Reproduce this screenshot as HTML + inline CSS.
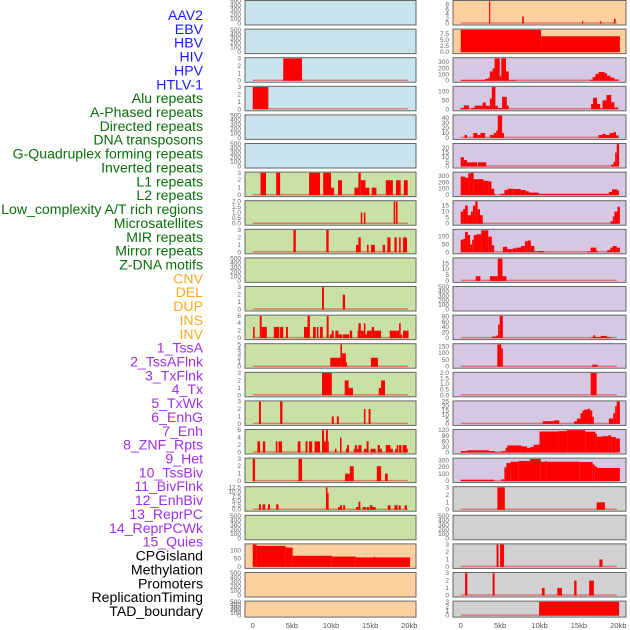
<!DOCTYPE html>
<html><head><meta charset="utf-8"><style>
html,body{margin:0;padding:0;background:#fff;}
svg{display:block;font-family:"Liberation Sans",sans-serif;}
</style></head><body>
<svg id="chart" width="630" height="630" viewBox="0 0 630 630" xmlns="http://www.w3.org/2000/svg"></svg>
<script>
const trackNames = ["AAV2","EBV","HBV","HIV","HPV","HTLV-1","Alu repeats","A-Phased repeats","Directed repeats","DNA transposons","G-Quadruplex forming repeats","Inverted repeats","L1 repeats","L2 repeats","Low_complexity A/T rich regions","Microsatellites","MIR repeats","Mirror repeats","Z-DNA motifs","CNV","DEL","DUP","INS","INV","1_TssA","2_TssAFlnk","3_TxFlnk","4_Tx","5_TxWk","6_EnhG","7_Enh","8_ZNF_Rpts","9_Het","10_TssBiv","11_BivFlnk","12_EnhBiv","13_ReprPC","14_ReprPCWk","15_Quies","CPGisland","Methylation","Promoters","ReplicationTiming","TAD_boundary"];
const groupOf = ["v","v","v","v","v","v","r","r","r","r","r","r","r","r","r","r","r","r","r","s","s","s","s","s","c","c","c","c","c","c","c","c","c","c","c","c","c","c","c","o","o","o","o","o"];
const E500 = [0,100,200,300,400,500];
const T3 = [0,1,2,3];
const yMaxes = [500,500,3,3,500,500,3,2,3,500,3,6,5,3,3,6,3,12.5,500,136,500,500,
  9.5,9.3,360,125,45,24,350,18.4,142,19,500,82,164,2,25,120,322,3,500,3,3,3];
const yTicks = [E500,E500,T3,T3,E500,E500,T3,[0,0.5,1,1.5,2],T3,E500,T3,[0,2,4,6],[0,1,2,3,4,5],T3,T3,[0,2,4,6],T3,[0,2.5,5,7.5,10,12.5],E500,[0,50,100],E500,E500,
  [0,2,4,6,8],[0,2.5,5,7.5],[0,100,200,300],[0,50,100],[0,10,20,30,40],[0,5,10,15,20],[0,100,200,300],[0,5,10,15],[0,50,100],[0,5,10,15],E500,[0,20,40,60,80],[0,50,100,150],[0,0.5,1,1.5,2],[0,5,10,15,20,25],[0,30,60,90,120],[0,100,200,300],T3,E500,T3,T3,T3];
const tickDecimals = [0,0,0,0,0,0,0,1,0,0,0,0,0,0,0,0,0,1,0,0,0,0, 0,1,0,0,0,0,0,0,0,0,0,0,0,1,0,0,0,0,0,0,0,0];
// segments: [startKb, endKb, value]
const segments = [
 [],[],
 [[3.9,6.3,3]],
 [[0,2.0,3]],
 [],[],
 [[1.0,1.7,3],[3.0,3.5,3],[7.2,8.6,3],[9.0,10.0,3],[10.0,10.4,1],[10.9,11.4,2],[13.0,13.5,1],[13.5,13.8,3],[13.8,14.4,2],[14.4,14.9,1],[15.2,15.8,1],[17.0,17.9,2],[18.3,18.9,2],[19.3,19.8,2]],
 [[13.8,14.0,1],[14.2,14.4,1],[18.0,18.2,2],[18.3,18.5,2]],
 [[5.2,5.5,3],[9.4,9.7,3],[13.2,13.5,1],[13.5,13.8,2],[14.6,14.8,1],[15.1,15.6,1],[16.6,16.9,1],[17.2,17.6,2],[18.1,18.4,2],[18.7,18.9,2],[19.2,19.7,2]],
 [],
 [[8.85,9.1,3],[11.5,11.8,2]],
 [[0.05,0.25,3],[0.9,1.15,6],[1.15,1.8,3],[2.7,3.4,3],[3.5,3.9,3],[4.25,4.5,3],[6.55,7.0,3],[7.0,7.3,6],[7.7,8.05,3],[8.2,8.4,3],[8.6,8.95,3],[9.45,9.7,6],[9.85,10.1,1],[10.1,10.35,2],[10.55,10.95,2],[10.95,11.4,1],[11.5,12.3,1],[12.4,12.7,2],[13.4,13.5,2],[13.5,13.8,4],[13.8,14.2,2],[14.2,14.4,4],[14.4,14.6,1],[14.6,15.2,2],[15.2,15.5,3],[15.5,16.4,2],[17.5,18.4,2],[18.4,18.7,2],[18.7,18.9,4],[18.9,19.1,1],[19.2,19.9,2]],
 [[9.9,11.2,2],[11.2,11.4,5],[11.4,11.9,3],[11.9,12.05,1],[15.1,16.0,2]],
 [[8.85,10.1,3],[11.75,12.25,2],[12.25,12.8,1],[16.1,16.4,1],[16.4,16.9,2]],
 [[0.8,1.05,3],[3.5,3.8,3],[10.1,10.35,1],[10.75,11.0,1],[14.2,14.4,2],[14.8,15.05,2]],
 [[0.6,0.95,3],[1.3,1.6,3],[2.95,3.15,3],[3.3,3.75,3],[5.75,6.1,3],[6.75,7.0,3],[7.2,7.6,3],[7.9,8.6,3],[8.85,9.1,6],[9.1,9.35,3],[9.35,9.6,6],[9.6,9.7,3],[10.5,10.7,1],[11.15,11.35,4],[11.9,12.05,1],[12.05,12.3,2],[12.9,13.05,1],[13.05,13.3,2],[13.3,13.5,1],[13.5,13.9,2],[14.2,14.55,1],[14.55,14.8,3],[15.05,15.7,1],[15.95,16.25,2],[16.25,16.5,1],[17.0,17.6,2],[17.6,17.9,1],[18.2,18.4,1],[18.4,18.6,2],[18.7,19.0,2],[19.15,19.65,2],[19.65,19.8,1]],
 [[0,0.3,3],[5.85,6.3,3],[11.8,12.05,1],[12.05,12.4,1],[12.4,12.9,2],[15.85,16.4,2],[16.9,17.25,1]],
 [[0.8,1.05,3],[1.25,1.6,3],[1.95,2.2,3],[3.0,3.3,3],[9.35,9.55,12.5],[9.55,9.7,9.5],[10.9,11.15,1.5],[11.15,11.4,2.5],[11.55,11.8,2.5],[13.2,13.5,1.5],[13.5,13.75,4.5],[14.05,14.45,1.5],[14.55,14.85,1.5],[14.95,15.3,2.5],[15.3,15.7,1.5],[17.25,17.6,2.5],[18.1,18.5,2.5],[18.65,18.9,2.5],[19.4,19.7,2.5]],
 [],
 [[0,0.5,136],[0.5,4.2,128],[4.2,5.1,118],[5.1,10.1,68],[10.1,13.15,63],[13.15,20.1,58],[15.5,15.6,64]],
 [],[],
 [[3.6,3.75,9.5],[7.8,8.0,3],[15.4,15.55,1],[17.7,17.85,1],[19.45,19.65,2]],
 [[0,10.2,9.3],[10.2,20.2,6.6]],
 [[0,3.1,10],[3.1,3.5,30],[3.5,3.7,50],[3.7,4.05,150],[4.05,4.3,200],[4.3,4.95,360],[4.95,5.15,80],[5.15,5.75,360],[5.75,6.1,150],[6.1,6.25,10],[6.35,7.0,10],[16.4,16.75,15],[16.75,17.1,60],[17.1,17.5,110],[17.5,18.25,140],[18.25,18.55,120],[18.55,19.0,80],[19.0,19.5,50],[19.5,20.1,20]],
 [[0,0.4,8],[0.4,1.05,22],[1.35,1.75,8],[1.75,2.65,20],[2.65,2.8,22],[2.8,3.2,38],[3.2,3.7,20],[3.7,3.95,60],[3.95,4.4,125],[4.4,4.7,20],[4.7,5.25,8],[5.25,5.85,70],[5.85,6.1,20],[16.55,16.8,30],[16.8,17.3,65],[17.3,17.7,30],[17.7,18.0,5],[18.0,18.5,50],[18.5,19.1,80],[19.1,19.5,40],[19.5,20.0,10]],
 [[0.5,0.8,6],[1.6,2.1,10],[2.1,2.5,6],[2.5,3.1,10],[3.7,4.2,6],[4.2,4.5,10],[4.5,4.7,15],[4.7,5.25,45],[5.25,5.5,10],[17.5,18.0,6],[18.0,18.4,8],[18.4,18.9,6],[18.9,19.4,10],[19.4,19.7,12],[19.7,20.05,5]],
 [[0,0.4,10],[0.4,0.8,7],[0.8,2.1,4.5],[2.2,3.25,4.5],[19.1,19.4,2],[19.4,19.6,5],[19.6,19.8,15],[19.8,20.1,24]],
 [[0,0.6,290],[0.6,0.95,270],[0.95,1.25,340],[1.25,1.65,350],[1.65,2.9,250],[2.9,3.55,225],[3.55,3.9,215],[3.9,4.25,100],[4.25,4.45,15],[5.05,5.55,20],[5.55,5.95,80],[5.95,6.6,100],[6.6,7.6,95],[7.6,8.25,80],[8.25,8.65,60],[8.65,9.9,40],[9.9,18.8,20],[18.8,19.2,50],[19.2,19.9,90],[19.9,20.1,70]],
 [[0,0.3,10],[0.3,0.55,12],[0.55,0.9,15],[0.9,1.3,7],[1.3,1.55,10],[1.55,1.85,15],[1.85,2.15,18.4],[2.15,2.45,12],[2.45,2.8,7],[19.0,19.3,2],[19.3,19.5,6],[19.5,19.9,10],[19.9,20.2,14]],
 [[0,0.3,80],[0.3,0.55,85],[0.55,0.9,130],[0.9,1.2,110],[1.2,1.45,50],[1.45,1.65,80],[1.65,2.0,110],[2.0,2.6,115],[2.6,3.5,140],[3.5,3.95,100],[3.95,4.25,45],[5.35,5.9,35],[5.9,6.6,20],[6.6,7.05,25],[7.05,7.65,30],[7.65,8.15,40],[8.15,8.5,70],[8.5,8.9,75],[8.9,9.35,40],[9.35,9.8,5],[9.8,10.6,8],[16.0,16.5,5],[16.5,17.2,30],[17.2,17.4,10],[18.6,19.0,15],[19.0,19.3,30],[19.3,19.8,40],[19.8,20.2,30]],
 [[1.9,2.5,4],[3.7,4.7,4],[4.7,5.3,19],[5.3,5.8,4]],
 [],
 [[4.0,4.55,6],[4.55,4.75,10],[4.75,4.95,50],[4.95,5.35,82],[16.6,16.8,4],[16.8,17.1,10],[17.1,17.75,4],[17.75,18.55,8],[18.55,19.0,4]],
 [[4.65,5.15,164],[5.15,5.35,135],[16.7,17.35,15]],
 [[16.5,17.25,2]],
 [[10.4,11.8,3],[11.8,12.5,4],[14.4,14.75,3],[14.75,15.2,6],[15.2,15.45,12],[15.45,15.65,15],[15.65,16.1,16],[16.1,16.4,17],[16.4,16.7,15],[16.7,16.9,8],[18.8,19.35,6],[19.35,19.6,12],[19.6,19.8,20],[19.8,20.2,25]],
 [[0,0.85,8],[0.85,3.6,12],[3.6,4.3,8],[4.3,5.15,3],[5.15,5.7,8],[5.7,5.9,25],[5.9,7.7,38],[7.7,8.4,33],[8.4,8.85,25],[8.85,9.25,30],[9.25,10.0,42],[10.0,12.4,113],[12.4,13.5,115],[13.5,15.8,120],[15.8,17.1,112],[17.1,17.3,100],[17.3,18.0,85],[18.0,18.7,88],[18.7,19.1,92],[19.1,19.7,83],[19.7,20.2,75]],
 [[0,4.2,20],[5.15,5.55,25],[5.55,5.8,200],[5.8,6.3,260],[6.3,7.3,280],[7.3,8.8,290],[8.8,10.15,320],[10.15,10.7,280],[10.7,10.9,290],[10.9,15.1,280],[15.1,16.75,275],[16.75,17.0,240],[17.0,17.3,210],[17.3,20.2,190]],
 [[4.65,5.6,3],[17.25,18.3,1]],
 [],
 [[4.55,4.8,3],[5.0,5.5,3],[17.6,18.0,1]],
 [[0.55,0.85,3],[4.05,4.3,3],[10.3,10.65,1],[12.25,12.85,1],[14.4,14.7,2],[16.3,16.9,2]],
 [[9.95,20.1,3]]
];
const xTicks = [0,5,10,15,20];
const xTickLabels = ["0","5kb","10kb","15kb","20kb"];

const NS = "http://www.w3.org/2000/svg";
const svg = document.getElementById("chart");
const bgColors = {v:"#c9e4ec",r:"#c9e1a5",s:"#fed09f",c:"#d6c7e3",o:"#d1d1d1"};
const labelColors = {v:"#1a1aff",r:"#0b6e0b",s:"#f9a825",c:"#a030e8",o:"#000000"};
function mk(tag, attrs, parent){
  const e = document.createElementNS(NS, tag);
  for (const k in attrs) e.setAttribute(k, attrs[k]);
  (parent||svg).appendChild(e);
  return e;
}
function xScale(col, kb){ return col===0 ? 252.7 + kb*7.83 : 460.7 + kb*7.88; }

// labels
trackNames.forEach((name,i)=>{
  const t = mk("text",{x:203,y:20+i*13.86,"text-anchor":"end","font-size":"14.1",fill:labelColors[groupOf[i]]});
  
  
  t.textContent = name;
});

// panels
trackNames.forEach((name,i)=>{
  const col = i<22 ? 0 : 1;
  const row = i % 22;
  const left = col===0 ? 245 : 453;
  const right = col===0 ? 416 : 626;
  const top = row*28.6 + 0.5;
  const h = row===21 ? 16 : 24.5;
  const bottom = top + h;
  const g = mk("g",{});
  
  
  const bg = mk("rect",{x:left,y:top,width:right-left,height:h,fill:bgColors[groupOf[i]]},g);
  
  
  const ymax = yMaxes[i];
  const y0 = bottom - 1.5;
  const yS = v => y0 - Math.min(v,ymax)/ymax*(h-2.2);
  const segs = segments[i];
  if (segs.length){
    const base = mk("line",{x1:xScale(col,0),x2:xScale(col,19.8),y1:y0-0.5,y2:y0-0.5,stroke:"#e03030","stroke-opacity":"0.55","stroke-width":"1.5"},g);
    
    
  }
  segs.forEach(s=>{
    const x1 = xScale(col,s[0]), x2 = xScale(col,s[1]);
    const yt = yS(s[2]);
    const r = mk("rect",{x:x1,y:yt,width:Math.max(0.9,x2-x1),height:Math.max(0.3,y0-yt),fill:"#ff0000"},g);
    
    
  });
  const border = mk("rect",{x:left,y:top,width:right-left,height:h,fill:"none",stroke:"#666","stroke-width":"1"},g);
  
  
  yTicks[i].forEach(v=>{
    const t = mk("text",{x:left-4,y:yS(v)+2,"text-anchor":"end","font-size":"6.5",fill:"#666"},g);
    
    
    t.textContent = v.toFixed(tickDecimals[i]);
  });
});

// x axes
[0,1].forEach(col=>{
  xTicks.forEach((k,j)=>{
    const t = mk("text",{x:xScale(col,k),y:628,"text-anchor":"middle","font-size":"7.5",fill:"#555"});
    
    
    t.textContent = xTickLabels[j];
  });
});
</script>
</body></html>
